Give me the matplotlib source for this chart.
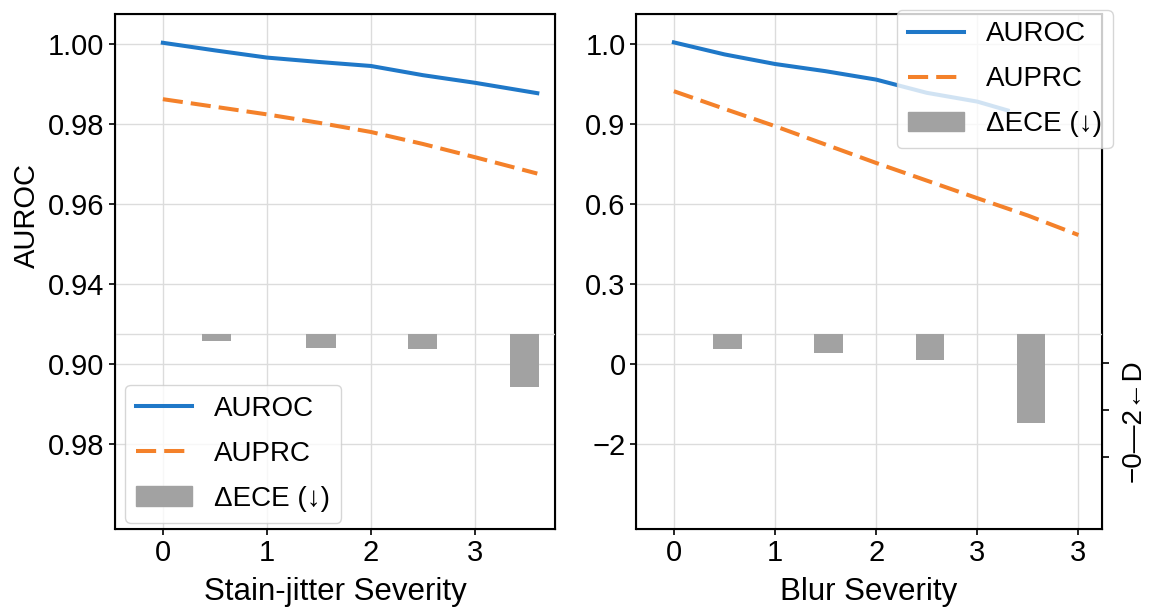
import numpy as np
import matplotlib
matplotlib.use("Agg")
import matplotlib.pyplot as plt
from matplotlib.lines import Line2D
from matplotlib.patches import Patch

plt.rcParams['font.family'] = ['Liberation Sans', 'DejaVu Sans']
plt.rcParams['font.size'] = 21

# ---------------- data: stain-jitter (left) ----------------
stain_x = [0, 0.5, 1, 1.5, 2, 2.5, 3, 3.6]
stain_auroc = [1.0003, 0.9984, 0.9966, 0.9955, 0.9945, 0.9922, 0.9903, 0.9877]
stain_auprc = [0.9862, 0.9843, 0.9824, 0.9803, 0.9780, 0.9750, 0.9717, 0.9676]
stain_ece_x = [0.52, 1.52, 2.50, 3.48]
stain_ece = [-0.15, -0.30, -0.33, -1.13]
stain_yticks = [1.00, 0.98, 0.96, 0.94, 0.92, 0.90]
stain_yticklabels = ["1.00", "0.98", "0.96", "0.94", "0.90", "0.98"]
stain_xticks = [0, 1, 2, 3]
stain_xticklabels = ["0", "1", "2", "3"]

# ---------------- data: blur (right) ----------------
blur_x_auroc = [0, 0.5, 1, 1.5, 2, 2.5, 3, 3.3]
blur_auroc = [1.002, 0.987, 0.975, 0.966, 0.9555, 0.939, 0.928, 0.917]
blur_x_auprc = [0, 0.5, 1, 1.5, 2, 2.5, 3, 3.5, 4]
blur_auprc = [0.941, 0.919, 0.892, 0.823, 0.754, 0.688, 0.622, 0.557, 0.484]
blur_ece_x = [0.53, 1.53, 2.53, 3.53]
blur_ece = [-0.33, -0.40, -0.56, -1.90]
blur_yticks = [1.0, 0.9, 0.6, 0.3, 0, -2]
blur_yticklabels = ["1.0", "0.9", "0.6", "0.3", "0", "\u22122"]
blur_xticks = [0, 1, 2, 3, 4]
blur_xticklabels = ["0", "1", "2", "3", "3"]

BLUE = '#1f78c8'
ORANGE = '#f4812a'
GRAY = '#a2a2a2'
GRID = '#dcdcdc'
LW = 2.9
DASH = (0, (5, 2))

# piecewise scale for the uneven right-hand ticks
knots_v = [-6, -2, 0, 0.3, 0.6, 0.9, 1.0, 1.1]
knots_p = [-2, 0, 1, 2, 3, 4, 5, 6]


def fwd(v):
    return np.interp(v, knots_v, knots_p)


def inv(p):
    return np.interp(p, knots_p, knots_v)


fig = plt.figure(figsize=(11.5, 6.09), dpi=100)
ax1 = fig.add_axes([0.100, 0.1314, 0.3826, 0.845])
ax2 = fig.add_axes([0.553, 0.1314, 0.405, 0.845])


def style(ax):
    ax.set_axisbelow(True)
    ax.grid(True, color=GRID, lw=1)
    for s in ax.spines.values():
        s.set_linewidth(1.5)
    ax.tick_params(length=4, width=1.2, labelsize=21)


def make_legend(ax, **kw):
    handles = [
        Line2D([], [], color=BLUE, lw=LW),
        Line2D([], [], color=ORANGE, lw=LW, ls=DASH),
        Patch(color=GRAY),
    ]
    labels = ["AUROC", "AUPRC", "\u0394ECE (\u2193)"]
    return ax.legend(handles, labels, fontsize=20, borderaxespad=0,
                     labelspacing=0.68, **kw)


# ---------------- left panel ----------------
style(ax1)
ax1.plot(stain_x, stain_auroc, color=BLUE, lw=LW)
ax1.plot(stain_x, stain_auprc, color=ORANGE, lw=LW, ls=DASH)
ax1.set_xlim(-0.46, 3.77)
ax1.set_ylim(0.87875, 1.0074)
ax1.set_yticks(stain_yticks)
ax1.set_yticklabels(stain_yticklabels)
ax1.set_xticks(stain_xticks)
ax1.set_xticklabels(stain_xticklabels)
ax1.set_ylabel("AUROC", fontsize=21, va='center')
ax1.yaxis.set_label_coords(-0.2, 0.61)
ax1.set_xlabel("Stain-jitter Severity", fontsize=22.5, labelpad=7)

tw1 = ax1.twinx()
tw1.set_ylim(-4.149, 6.80)
tw1.axhline(0, color=GRID, lw=1, zorder=0)
tw1.bar(stain_ece_x, stain_ece, width=0.28, color=GRAY)
tw1.set_yticks([])
make_legend(tw1, loc='lower left', bbox_to_anchor=(0.023, 0.012))

# ---------------- right panel ----------------
style(ax2)
ax2.set_yscale('function', functions=(fwd, inv))
ax2.plot(blur_x_auroc, blur_auroc, color=BLUE, lw=LW)
ax2.plot(blur_x_auprc, blur_auprc, color=ORANGE, lw=LW, ls=DASH)
ax2.set_xlim(-0.375, 4.23)
ax2.set_ylim(-4.12, 1.037)
ax2.set_yticks(blur_yticks)
ax2.set_yticklabels(blur_yticklabels)
ax2.yaxis.set_minor_locator(plt.NullLocator())
ax2.set_xticks(blur_xticks)
ax2.set_xticklabels(blur_xticklabels)
ax2.set_xlabel("Blur Severity", fontsize=22.5, labelpad=7)

tw2 = ax2.twinx()
tw2.set_ylim(-4.149, 6.80)
tw2.axhline(0, color=GRID, lw=1, zorder=0)
tw2.bar(blur_ece_x, blur_ece, width=0.28, color=GRAY)
tw2.set_yticks([-0.617, -1.617, -2.617])
tw2.set_yticklabels([])
tw2.tick_params(axis='y', length=5, width=1.2)
tw2.set_ylabel("\u22120\u20142\u2190D", fontsize=20, va='center')
tw2.yaxis.set_label_coords(1.069, 0.21)
make_legend(tw2, loc='upper right', bbox_to_anchor=(1.024, 1.008))

fig.savefig("out.png", dpi=100, facecolor='white')
